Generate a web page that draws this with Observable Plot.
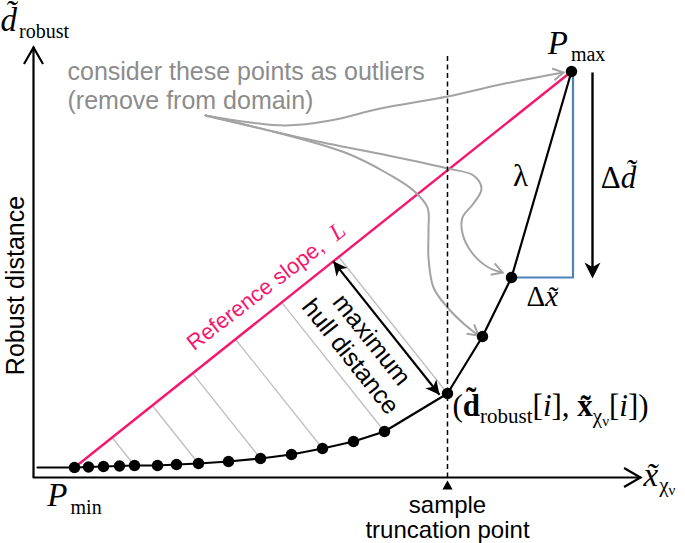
<!DOCTYPE html>
<html><head><meta charset="utf-8">
<script src="https://cdn.jsdelivr.net/npm/d3@7"></script>
<script src="https://cdn.jsdelivr.net/npm/@observablehq/plot@0.6"></script>
<style>html,body{margin:0;padding:0;background:#fff;} #chart svg{display:block;}</style>
</head><body><div id="chart"></div>
<script>
// ---- Data (diagram units; origin at the axis corner, y up) ----
const hullX = [41, 55, 70, 86, 101, 124, 143, 165, 195, 227, 258, 289, 320, 351, 414, 449, 478, 538];
const hullY = [10, 10.5, 11, 11.5, 12, 12, 13, 14, 16, 19, 23, 29, 36, 46, 84, 141, 200, 406];
const curveStart = {x: 4, y: 10};
const truncationIndex = 14;
const perpIndices = [4, 7, 9, 11, 13, 14];
const xAxisEnd = 607, yAxisEnd = 430, dashTop = 425;

// outlier arrows (free-hand curves in the sketch)
const toMaxX = [172, 217, 252, 297, 347, 414, 467, 530];
const toMaxY = [362, 355, 352, 357, 369, 381, 393, 405];
const toUpperX = [172, 280, 364, 414, 440, 448, 440, 429, 429, 439, 455, 469];
const toUpperY = [362, 337, 320, 309, 302, 289, 274, 260, 244, 224, 210, 205];
const toLowerX = [172, 247, 314, 354, 380, 394, 395, 395, 400, 414, 430, 445];
const toLowerY = [362, 344, 324, 304, 287, 270, 247, 220, 190, 170, 154, 142];

// texts
const outlierNote = {x: 34, y: 369, text: "consider these points as outliers\n(remove from domain)"};
const yTitle = {x: -10, y: 192, text: "Robust distance"};
const truncText = "sample\ntruncation point";
const slopeText = "Reference slope,";
const slopeSymbol = "L";
const hullText = ["maximum", "hull distance"];
const lambdaText = "λ";

// ---- derived geometry ----
const hull = hullX.map((x, i) => ({x, y: hullY[i]}));
const pmin = hull[0], pmax = hull[hull.length - 1], trunc = hull[truncationIndex];
const dir = [pmax.x - pmin.x, pmax.y - pmin.y];
const len = Math.hypot(dir[0], dir[1]);
const u = [dir[0] / len, dir[1] / len];
const nUp = [-u[1], u[0]];
const slopeAngle = -Math.atan2(dir[1], dir[0]) * 180 / Math.PI;
function foot(p) {
  const t = (p.x - pmin.x) * u[0] + (p.y - pmin.y) * u[1];
  return {x: pmin.x + t * u[0], y: pmin.y + t * u[1]};
}
function onPink(frac, off) {
  return {x: pmin.x + frac * len * u[0] + off * nUp[0], y: pmin.y + frac * len * u[1] + off * nUp[1]};
}
function rotTo(from, to) { // rotation for an up-pointing symbol to point from -> to (screen)
  const sx = to.x - from.x, sy = -(to.y - from.y);
  return Math.atan2(sy, sx) * 180 / Math.PI + 90;
}
const perpLinks = perpIndices.map(i => { const p = hull[i], f = foot(p); return {x1: f.x, y1: f.y, x2: p.x, y2: p.y}; });

const mk = (xs, ys, id) => xs.map((x, i) => ({x, y: ys[i], id}));
const outlierCurves = [...mk(toMaxX, toMaxY, "a"), ...mk(toUpperX, toUpperY, "b"), ...mk(toLowerX, toLowerY, "c")];
const outlierHeads = [[toMaxX, toMaxY], [toUpperX, toUpperY], [toLowerX, toLowerY]].map(([xs, ys]) => {
  const n = xs.length, a = {x: xs[n - 2], y: ys[n - 2]}, b = {x: xs[n - 1], y: ys[n - 1]};
  return {x: b.x, y: b.y, rot: rotTo(a, b)};
});

// max hull distance arrow (offset a little from its gray perpendicular)
const f14 = foot(trunc);
const A = {x: f14.x - 7 * u[0], y: f14.y - 7 * u[1]};
const B0 = {x: trunc.x - 7 * u[0], y: trunc.y - 7 * u[1]};
const lAB = Math.hypot(A.x - B0.x, A.y - B0.y);
const B = {x: B0.x + (A.x - B0.x) / lAB * 4, y: B0.y + (A.y - B0.y) / lAB * 4};
const M = {x: (A.x + B.x) / 2, y: (A.y + B.y) / 2};

// delta-d arrow
const dArrowX = pmax.x + 21;
const dTop = {x: dArrowX, y: pmax.y - 1}, dTip = {x: dArrowX, y: hull[16].y - 1};
const blueCorner = [hull[16], {x: pmax.x + 1.5, y: hull[16].y}, {x: pmax.x + 1.5, y: pmax.y}];

const chevron = {draw(ctx, size) { const r = Math.sqrt(size / Math.PI), a = Math.PI / 6;
  ctx.moveTo(-r * Math.sin(a), r * Math.cos(a)); ctx.lineTo(0, 0); ctx.lineTo(r * Math.sin(a), r * Math.cos(a)); }};
const stealth = {draw(ctx, size) { const r = Math.sqrt(size / Math.PI);
  ctx.moveTo(0, 0); ctx.lineTo(-0.5 * r, r); ctx.lineTo(0, 0.72 * r); ctx.lineTo(0.5 * r, r); ctx.closePath(); }};

const pink = "#f5176e", grayC = "#a3a3a3";
const sans = "'Liberation Sans', Arial, Helvetica, sans-serif";
const serif = "'Liberation Serif', 'Times New Roman', serif";
const XY = {x: "x", y: "y"};
const L4 = {x1: "x1", y1: "y1", x2: "x2", y2: "y2"};

const slopePos = onPink(0.392, 15), lPos = onPink(0.555, 21);
const hullLabels = [
  {x: M.x - 19 * u[0], y: M.y - 19 * u[1], text: hullText[0]},
  {x: M.x - 46 * u[0], y: M.y - 46 * u[1], text: hullText[1]}
];

const svg = Plot.plot({
  width: 685, height: 543, margin: 0,
  style: {fontFamily: sans, background: "white", overflow: "visible"},
  x: {domain: [-33, 652], range: [0, 685], axis: null},
  y: {domain: [-66, 477], range: [543, 0], axis: null},
  marks: [
    Plot.link(perpLinks, {...L4, stroke: "#bfbfbf", strokeWidth: 1.3}),
    Plot.line(blueCorner, {...XY, stroke: "#4f81bd", strokeWidth: 2.2}),
    Plot.link([{x1: pmin.x, y1: pmin.y, x2: pmax.x, y2: pmax.y}], {...L4, stroke: pink, strokeWidth: 2.4}),
    Plot.line(outlierCurves, {...XY, z: "id", curve: "catmull-rom", stroke: grayC, strokeWidth: 2}),
    Plot.dot(outlierHeads, {...XY, rotate: "rot", symbol: chevron, r: 12, stroke: grayC, strokeWidth: 2, fill: "none"}),
    Plot.link([{x1: trunc.x, y1: 0, x2: trunc.x, y2: dashTop}], {...L4, stroke: "black", strokeWidth: 1.5, strokeDasharray: "5,3.5"}),
    Plot.line([{x: 0, y: yAxisEnd}, {x: 0, y: 0}, {x: xAxisEnd, y: 0}], {...XY, stroke: "black", strokeWidth: 2.2}),
    Plot.dot([{x: 0, y: yAxisEnd, rot: 0}, {x: xAxisEnd, y: 0, rot: 90}], {...XY, rotate: "rot", symbol: chevron, r: 19, stroke: "black", strokeWidth: 2.2, fill: "none"}),
    Plot.dot([{x: trunc.x, y: 0}], {...XY, symbol: "triangle", r: 3.8, fill: "black", stroke: "none", dy: 9}),
    Plot.line([curveStart, ...hull], {...XY, stroke: "black", strokeWidth: 2.2}),
    Plot.dot(hull, {...XY, r: 5.7, fill: "black", stroke: "none"}),
    // delta d arrow
    Plot.link([{x1: dTop.x, y1: dTop.y, x2: dTip.x, y2: dTip.y + 8}], {...L4, stroke: "black", strokeWidth: 2.4}),
    Plot.dot([dTip], {...XY, symbol: stealth, rotate: 180, r: 16, fill: "black", stroke: "none"}),
    // max hull distance arrow
    Plot.link([{x1: A.x, y1: A.y, x2: B.x, y2: B.y}], {...L4, stroke: "black", strokeWidth: 2.2}),
    Plot.dot([{...A, rot: rotTo(B, A)}, {...B, rot: rotTo(A, B)}], {...XY, rotate: "rot", symbol: stealth, r: 14, fill: "black", stroke: "none"}),
    // texts
    Plot.text([outlierNote], {...XY, text: "text", textAnchor: "start", lineAnchor: "bottom", lineHeight: 1.16, fontSize: 25, fill: "#8c8c8c"}),
    Plot.text([yTitle], {...XY, text: "text", rotate: -90, textAnchor: "middle", lineAnchor: "bottom", fontSize: 25, fill: "black"}),
    Plot.text([{x: trunc.x, y: 0, text: truncText}], {...XY, text: "text", textAnchor: "middle", lineAnchor: "top", lineHeight: 1.04, dy: 18, fontSize: 24, fill: "black"}),
    Plot.text([{...slopePos, text: slopeText}], {...XY, text: "text", rotate: slopeAngle + 1, textAnchor: "middle", lineAnchor: "bottom", fontSize: 22, fill: pink}),
    Plot.text([{...lPos, text: slopeSymbol}], {...XY, text: "text", rotate: slopeAngle + 1, textAnchor: "middle", lineAnchor: "middle", fontSize: 24, fontStyle: "italic", fontFamily: serif, fill: pink}),
    Plot.text(hullLabels, {...XY, text: "text", rotate: slopeAngle + 90, textAnchor: "middle", lineAnchor: "middle", fontSize: 25, fill: "black"}),
    Plot.text([{x: (hull[16].x + pmax.x) / 2, y: (hull[16].y + pmax.y) / 2, text: lambdaText}], {...XY, text: "text", dx: -21, dy: 2, textAnchor: "middle", lineAnchor: "middle", fontSize: 31, fontFamily: serif, fill: "black"}),
    // rich labels (expanded into tspans below)
    Plot.text([{...pmax, text: "PMAX"}], {...XY, text: "text", textAnchor: "middle", lineAnchor: "bottom", dx: 5, dy: -18}),
    Plot.text([{...pmin, text: "PMIN"}], {...XY, text: "text", textAnchor: "middle", lineAnchor: "bottom", dx: 0, dy: 38}),
    Plot.text([{x: 0, y: yAxisEnd, text: "YLAB"}], {...XY, text: "text", textAnchor: "start", lineAnchor: "bottom", dx: -33, dy: -17}),
    Plot.text([{x: xAxisEnd, y: 0, text: "XLAB"}], {...XY, text: "text", textAnchor: "start", lineAnchor: "bottom", dx: 3, dy: 8}),
    Plot.text([{...trunc, text: "POINT"}], {...XY, text: "text", textAnchor: "start", lineAnchor: "bottom", dx: 5, dy: 22}),
    Plot.text([{x: dArrowX, y: (dTop.y + dTip.y) / 2, text: "DD"}], {...XY, text: "text", textAnchor: "middle", lineAnchor: "bottom", dx: 26, dy: 12}),
    Plot.text([{x: (hull[16].x + pmax.x + 1.5) / 2, y: hull[16].y, text: "DX"}], {...XY, text: "text", textAnchor: "middle", lineAnchor: "bottom", dy: 28})
  ]
});

// rich text expansion
const T = "\u0303";
const s = (text, o = {}) => ({text, ...o});
const rich = {
  PMAX: [s("P", {it: 1, size: 33}), s("max", {size: 20, sh: 7, dx: 3})],
  PMIN: [s("P", {it: 1, size: 33}), s("min", {size: 20, sh: 8, dx: 3})],
  YLAB: [s("d" + T, {it: 1, size: 33}), s("robust", {size: 20, sh: 7, dx: 2})],
  XLAB: [s("x" + T, {it: 1, size: 33}), s("χ", {size: 21, sh: 6, dx: 1}), s("ν", {size: 15, sh: 9})],
  POINT: [s("(", {size: 31}), s("d" + T, {b: 1, size: 31}), s("robust", {size: 21, sh: 7}), s("[", {size: 31}), s("i", {it: 1, size: 31}), s("], ", {size: 31}),
          s("x" + T, {b: 1, size: 31}), s("χ", {size: 21, sh: 7}), s("ν", {size: 15, sh: 10}), s("[", {size: 31}), s("i", {it: 1, size: 31}), s("])", {size: 31})],
  DD: [s("Δ", {size: 31}), s("d" + T, {it: 1, size: 31})],
  DX: [s("Δ", {size: 29}), s("x" + T, {it: 1, size: 29})]
};
const NS = "http://www.w3.org/2000/svg";
svg.querySelectorAll("text").forEach(el => {
  const spec = rich[el.textContent];
  if (!spec) return;
  el.textContent = "";
  let cur = 0;
  for (const g of spec) {
    const t = document.createElementNS(NS, "tspan");
    t.textContent = g.text;
    t.setAttribute("font-family", serif);
    t.setAttribute("font-size", g.size);
    t.setAttribute("fill", "black");
    if (g.it) t.setAttribute("font-style", "italic");
    if (g.b) t.setAttribute("font-weight", "bold");
    const sh = g.sh || 0;
    if (sh !== cur) { t.setAttribute("dy", sh - cur); cur = sh; }
    if (g.dx) t.setAttribute("dx", g.dx);
    el.appendChild(t);
  }
});
document.getElementById("chart").appendChild(svg);
</script>
</body></html>
